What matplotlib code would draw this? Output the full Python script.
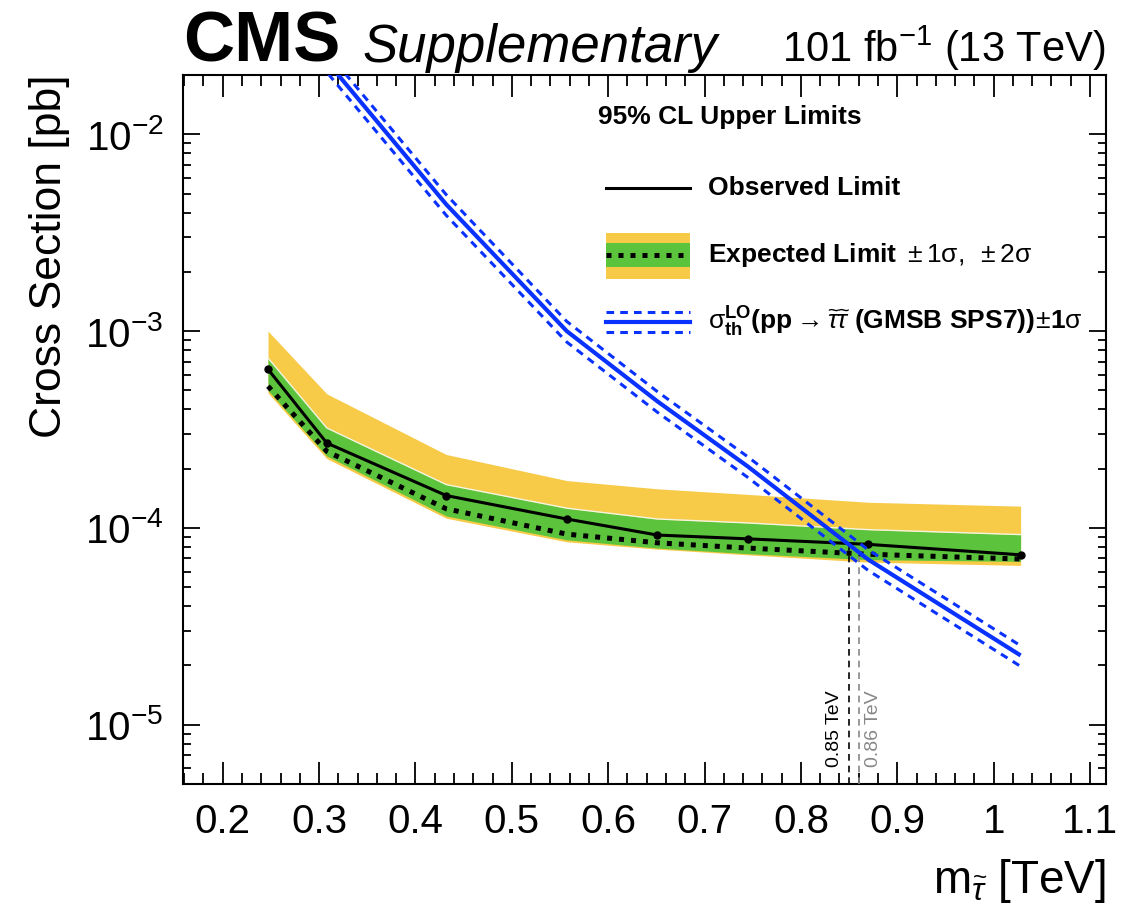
import numpy as np
import matplotlib
matplotlib.use("Agg")
import matplotlib.pyplot as plt
from matplotlib.lines import Line2D
from matplotlib.patches import Rectangle
from matplotlib.ticker import LogLocator, MultipleLocator, FuncFormatter

plt.rcParams['font.family'] = ['Liberation Sans', 'DejaVu Sans']
plt.rcParams['mathtext.fontset'] = 'custom'
plt.rcParams['mathtext.rm'] = 'Liberation Sans'
plt.rcParams['mathtext.it'] = 'Liberation Sans:italic'
plt.rcParams['mathtext.bf'] = 'Liberation Sans:bold'

# stau mass points [TeV]
mass = [0.247, 0.308, 0.432, 0.557, 0.651, 0.745, 0.870, 1.028]
# 95% CL upper limits on the cross section [pb]
observed = [6.4e-4, 2.70e-4, 1.46e-4, 1.11e-4, 9.2e-5, 8.8e-5, 8.25e-5, 7.3e-5]
expected = [5.25e-4, 2.45e-4, 1.25e-4, 9.3e-5, 8.4e-5, 7.9e-5, 7.35e-5, 6.95e-5]
exp_p1 = [7.3e-4, 3.22e-4, 1.66e-4, 1.26e-4, 1.11e-4, 1.06e-4, 9.8e-5, 9.25e-5]
exp_m1 = [5.0e-4, 2.32e-4, 1.15e-4, 8.7e-5, 7.9e-5, 7.4e-5, 6.9e-5, 6.76e-5]
exp_p2 = [1.0e-3, 4.8e-4, 2.36e-4, 1.74e-4, 1.58e-4, 1.48e-4, 1.35e-4, 1.29e-4]
exp_m2 = [4.85e-4, 2.25e-4, 1.12e-4, 8.5e-5, 7.8e-5, 7.3e-5, 6.7e-5, 6.45e-5]
# LO theory cross section (GMSB SPS7) [pb]
theory = [5.5e-2, 2.35e-2, 4.4e-3, 1.0e-3, 4.4e-4, 2.05e-4, 6.9e-5, 2.25e-5]
theory_rel_unc = 0.12
# mass exclusion limits [TeV]
obs_excl = 0.85
exp_excl = 0.86

YELLOW = '#F7CA48'
GREEN = '#5CC43C'
BLUE = '#0A32FF'

W, H = 1146, 918
fig = plt.figure(figsize=(W / 100, H / 100), dpi=100)
ax = fig.add_axes([183 / W, (H - 784) / H, (1106 - 183) / W, (784 - 75) / H])

m = np.array(mass)
th = np.array(theory)

ax.fill_between(m, exp_m2, exp_p2, color=YELLOW, lw=0, zorder=1)
ax.fill_between(m, exp_m1, exp_p1, color=GREEN, lw=0, zorder=2)
ax.plot(m, exp_p1, color='#f4f4e0', lw=1.0, zorder=2.5)
ax.plot(m, expected, color='black', lw=3.6, dashes=(1, 1.4), zorder=4)
ax.plot(m, observed, color='black', lw=2.2, marker='o', ms=5, zorder=5)

ax.plot(m, th, color=BLUE, lw=3.0, zorder=6, solid_capstyle='butt')
ax.plot(m, th * (1 + theory_rel_unc), color=BLUE, lw=2.2, dashes=(2.5, 2.0), zorder=6)
ax.plot(m, th * (1 - theory_rel_unc), color=BLUE, lw=2.2, dashes=(2.5, 2.0), zorder=6)

# exclusion markers
obs_at = np.exp(np.interp(obs_excl, m, np.log(observed)))
exp_at = np.exp(np.interp(exp_excl, m, np.log(expected)))
ax.plot([obs_excl, obs_excl], [5e-6, obs_at], color='black', lw=1.2, dashes=(4, 3), zorder=3)
ax.plot([exp_excl, exp_excl], [5e-6, exp_at], color='#888888', lw=1.2, dashes=(4, 3), zorder=3)
ax.text(obs_excl - 0.006, 6.1e-6, f'{obs_excl:.2f} TeV', rotation=90, ha='right', va='bottom',
        fontsize=14, color='black')
ax.text(exp_excl + 0.006, 6.1e-6, f'{exp_excl:.2f} TeV', rotation=90, ha='left', va='bottom',
        fontsize=14, color='#888888')

ax.set_yscale('log')
ax.set_xlim(0.1588, 1.1166)
ax.set_ylim(5e-6, 2e-2)

ax.xaxis.set_major_locator(MultipleLocator(0.1))
ax.xaxis.set_minor_locator(MultipleLocator(0.02))
ax.yaxis.set_major_locator(LogLocator(base=10, numticks=10))
ax.yaxis.set_minor_locator(LogLocator(base=10, subs=np.arange(2, 10), numticks=20))
ax.xaxis.set_major_formatter(FuncFormatter(lambda v, p: f'{v:g}'))

ax.tick_params(axis='both', which='both', direction='in', top=True, right=True, width=1.3,
               labelsize=29)
ax.tick_params(axis='x', which='major', length=16, pad=14)
ax.tick_params(axis='x', which='minor', length=8)
ax.tick_params(axis='y', which='major', length=12, pad=14)
ax.tick_params(axis='y', which='minor', length=6)
for s in ax.spines.values():
    s.set_linewidth(1.5)

ax.set_ylabel('Cross Section [pb]', fontsize=32, loc='top')
ax.yaxis.set_label_coords(-0.122, 1.0)
ax.set_xlabel(r'm$_{\widetilde{\tau}}$ [TeV]', fontsize=33, loc='right')
ax.xaxis.set_label_coords(1.0, -0.103)

# header
fig.text(183 / W, 1 - 62 / H, 'CMS', fontsize=51, fontweight='bold', ha='left', va='baseline')
fig.text(362 / W, 1 - 62 / H, 'Supplementary', fontsize=38, style='italic', ha='left', va='baseline')
fig.text(1105 / W, 1 - 62 / H, r'101 fb$^{-1}$ (13 TeV)', fontsize=30, ha='right', va='baseline')

# legend
def fx(px):
    return px / W

def fy(py):
    return 1 - py / H

fig.text(fx(598), fy(117), '95% CL Upper Limits', fontsize=19, fontweight='bold', ha='left', va='center')
fig.add_artist(Line2D([fx(606), fx(690)], [fy(188), fy(188)], color='black', lw=2.2))
fig.text(fx(708), fy(188), 'Observed Limit', fontsize=19, fontweight='bold', ha='left', va='center')

fig.add_artist(Rectangle((fx(606), fy(279)), fx(84), 46 / H, color=YELLOW, lw=0))
fig.add_artist(Rectangle((fx(606), fy(267)), fx(84), 24 / H, color=GREEN, lw=0))
fig.add_artist(Line2D([fx(606), fx(690)], [fy(255), fy(255)], color='black', lw=3.6, dashes=(1, 1.4)))
fig.text(fx(708), fy(255), r'$\mathbf{Expected\ Limit}\ \pm1\mathrm{\sigma},\ \pm2\mathrm{\sigma}$',
         fontsize=19, ha='left', va='center')

fig.add_artist(Line2D([fx(606), fx(690)], [fy(312), fy(312)], color=BLUE, lw=2.2, dashes=(2.5, 2.0)))
fig.add_artist(Line2D([fx(606), fx(690)], [fy(322), fy(322)], color=BLUE, lw=3.0))
fig.add_artist(Line2D([fx(606), fx(690)], [fy(332), fy(332)], color=BLUE, lw=2.2, dashes=(2.5, 2.0)))
fig.text(fx(708), fy(322),
         r'$\mathrm{\sigma}^{\mathbf{LO}}_{\mathbf{th}}\mathbf{(pp}\rightarrow\widetilde{\tau}\widetilde{\tau}'
         r'\ \mathbf{(GMSB\ SPS7))}\!\pm\!\mathbf{1}\mathrm{\sigma}$',
         fontsize=19, ha='left', va='center')

fig.savefig('out.png', dpi=100)
